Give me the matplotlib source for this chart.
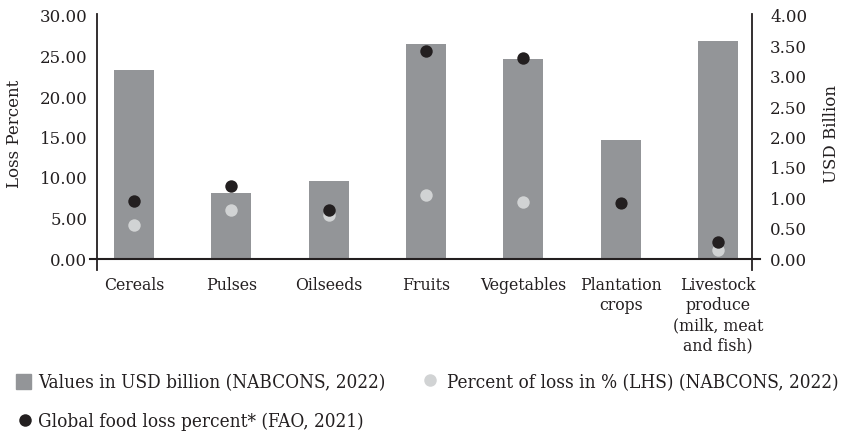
import matplotlib
matplotlib.use("Agg")
import matplotlib.pyplot as plt
from matplotlib.lines import Line2D
from matplotlib.patches import Rectangle

plt.rcParams['font.family'] = ['DejaVu Serif']

# data
categories = ['Cereals', 'Pulses', 'Oilseeds', 'Fruits', 'Vegetables',
              'Plantation\ncrops', 'Livestock\nproduce\n(milk, meat\nand fish)']
usd_billion = [3.11, 1.09, 1.28, 3.54, 3.29, 1.96, 3.59]
loss_pct_nabcons = [4.2, 6.1, 5.4, 7.9, 7.0, 6.9, 1.1]
loss_pct_fao = [7.15, 9.05, 6.05, 25.7, 24.8, 6.95, 2.1]

left_ticks = [0, 5, 10, 15, 20, 25, 30]
right_ticks = [0, 0.5, 1.0, 1.5, 2.0, 2.5, 3.0, 3.5, 4.0]

bar_col = '#939598'
light_col = '#d1d3d4'
dark_col = '#231f20'
txt_col = '#231f20'

fig = plt.figure(figsize=(8.41, 4.32), dpi=100)
ax = fig.add_axes([97 / 841, 1 - 270 / 432, 655 / 841, 256 / 432])
ax2 = ax.twinx()

x = list(range(len(categories)))

# bars on the right scale, dots on the left scale drawn on top
ax2.bar(x, usd_billion, width=0.41, color=bar_col, zorder=1)
ax.set_zorder(ax2.get_zorder() + 1)
ax.patch.set_visible(False)

ax.scatter(x, loss_pct_nabcons, s=80, color=light_col, zorder=3, linewidths=0)
ax.scatter(x, loss_pct_fao, s=80, color=dark_col, zorder=4, linewidths=0)

ax.set_xlim(-0.38, 6.35)
ax.set_ylim(-11 / 8.1, 30 + 2 / 8.1)
ax2.set_ylim((-11 / 8.1) * 4 / 30, (30 + 2 / 8.1) * 4 / 30)

ax.set_yticks(left_ticks)
ax.set_yticklabels([f'{v:.2f}' for v in left_ticks])
ax2.set_yticks(right_ticks)
ax2.set_yticklabels([f'{v:.2f}' for v in right_ticks])
ax.tick_params(axis='y', length=0, pad=7, labelsize=12, labelcolor=txt_col)
ax2.tick_params(axis='y', length=0, pad=13, labelsize=12, labelcolor=txt_col)

ax.set_xticks(x)
ax.set_xticklabels(categories, fontsize=12.6, color=txt_col, linespacing=1.25,
                   va='top', fontstretch='condensed')
ax.tick_params(axis='x', length=0, pad=5)

for a in (ax, ax2):
    a.spines['top'].set_visible(False)
    a.spines['bottom'].set_visible(False)
ax.spines['right'].set_visible(False)
ax2.spines['left'].set_visible(False)
ax.spines['left'].set_linewidth(1.3)
ax.spines['left'].set_color(dark_col)
ax2.spines['right'].set_linewidth(1.3)
ax2.spines['right'].set_color(dark_col)

# baseline runs a little past both spines
ax.axhline(0, xmin=-0.011, xmax=1.012, color=dark_col, lw=1.5,
           clip_on=False, zorder=5)

fig.text(15 / 841, 1 - 134 / 432, 'Loss Percent', rotation=90,
         ha='center', va='center', fontsize=12, color=txt_col)
fig.text(831 / 841, 1 - 134 / 432, 'USD Billion', rotation=90,
         ha='center', va='center', fontsize=12, color=txt_col)

# legend, laid out by hand
leg_size = 13.6
fig.patches.append(Rectangle((16 / 841, 1 - 389 / 432), 15 / 841, 15 / 432,
                             transform=fig.transFigure, color=bar_col))
fig.text(38 / 841, 1 - 388 / 432, 'Values in USD billion (NABCONS, 2022)',
         fontsize=leg_size, color=txt_col, va='baseline', fontstretch='condensed')
fig.lines.append(Line2D([430 / 841], [1 - 380 / 432], marker='o', ms=9,
                        color=light_col, mew=0, transform=fig.transFigure))
fig.text(447 / 841, 1 - 388 / 432, 'Percent of loss in % (LHS) (NABCONS, 2022)',
         fontsize=leg_size, color=txt_col, va='baseline', fontstretch='condensed')
fig.lines.append(Line2D([25 / 841], [1 - 420 / 432], marker='o', ms=9,
                        color=dark_col, mew=0, transform=fig.transFigure))
fig.text(38 / 841, 1 - 427 / 432, 'Global food loss percent* (FAO, 2021)',
         fontsize=leg_size, color=txt_col, va='baseline', fontstretch='condensed')

fig.savefig('out.png', dpi=100)
